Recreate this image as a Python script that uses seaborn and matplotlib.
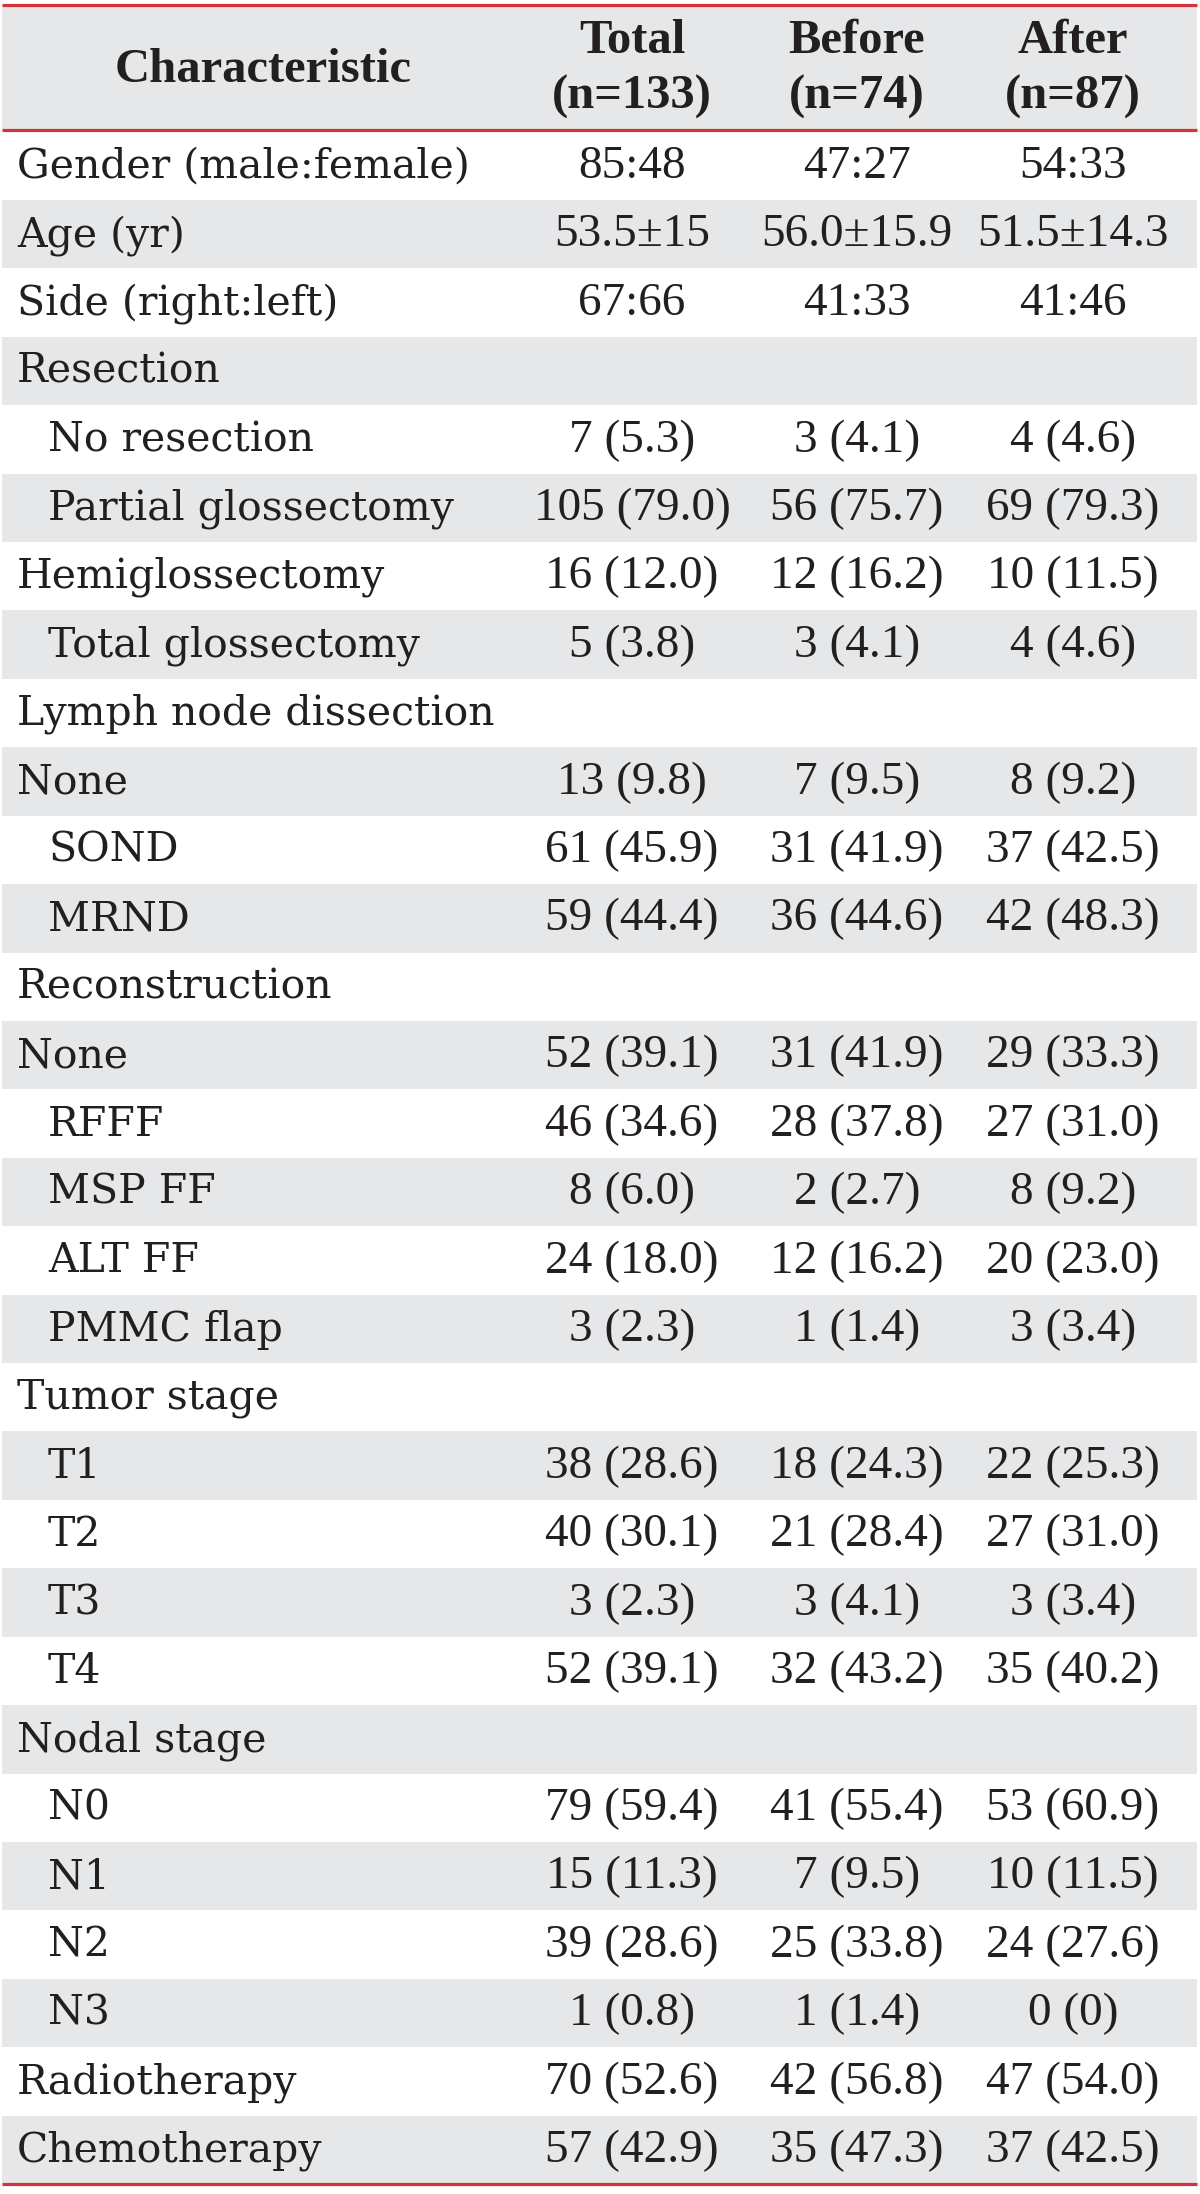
import numpy as np
import pandas as pd
import matplotlib
matplotlib.use("Agg")
import matplotlib.pyplot as plt
import seaborn as sns
from matplotlib.colors import ListedColormap

# table content
columns = ["Total", "Before", "After"]
column_n = ["(n=133)", "(n=74)", "(n=87)"]

labels = [
    "Gender (male:female)", "Age (yr)", "Side (right:left)",
    "Resection", "No resection", "Partial glossectomy", "Hemiglossectomy", "Total glossectomy",
    "Lymph node dissection", "None", "SOND", "MRND",
    "Reconstruction", "None", "RFFF", "MSP FF", "ALT FF", "PMMC flap",
    "Tumor stage", "T1", "T2", "T3", "T4",
    "Nodal stage", "N0", "N1", "N2", "N3",
    "Radiotherapy", "Chemotherapy",
]
indent = [0, 0, 0,
          0, 1, 1, 0, 1,
          0, 0, 1, 1,
          0, 0, 1, 1, 1, 1,
          0, 1, 1, 1, 1,
          0, 1, 1, 1, 1,
          0, 0]

total = ["85:48", "53.5±15", "67:66",
         "", "7 (5.3)", "105 (79.0)", "16 (12.0)", "5 (3.8)",
         "", "13 (9.8)", "61 (45.9)", "59 (44.4)",
         "", "52 (39.1)", "46 (34.6)", "8 (6.0)", "24 (18.0)", "3 (2.3)",
         "", "38 (28.6)", "40 (30.1)", "3 (2.3)", "52 (39.1)",
         "", "79 (59.4)", "15 (11.3)", "39 (28.6)", "1 (0.8)",
         "70 (52.6)", "57 (42.9)"]
before = ["47:27", "56.0±15.9", "41:33",
          "", "3 (4.1)", "56 (75.7)", "12 (16.2)", "3 (4.1)",
          "", "7 (9.5)", "31 (41.9)", "36 (44.6)",
          "", "31 (41.9)", "28 (37.8)", "2 (2.7)", "12 (16.2)", "1 (1.4)",
          "", "18 (24.3)", "21 (28.4)", "3 (4.1)", "32 (43.2)",
          "", "41 (55.4)", "7 (9.5)", "25 (33.8)", "1 (1.4)",
          "42 (56.8)", "35 (47.3)"]
after = ["54:33", "51.5±14.3", "41:46",
         "", "4 (4.6)", "69 (79.3)", "10 (11.5)", "4 (4.6)",
         "", "8 (9.2)", "37 (42.5)", "42 (48.3)",
         "", "29 (33.3)", "27 (31.0)", "8 (9.2)", "20 (23.0)", "3 (3.4)",
         "", "22 (25.3)", "27 (31.0)", "3 (3.4)", "35 (40.2)",
         "", "53 (60.9)", "10 (11.5)", "24 (27.6)", "0 (0)",
         "47 (54.0)", "37 (42.5)"]

df = pd.DataFrame({"label": labels, "indent": indent,
                   "Total": total, "Before": before, "After": after})

# styling
GRAY = "#E6E7E9"
RED = "#D2343B"
INK = "#231F20"
W, H = 1200, 2194
X0, X1 = 2, 1197
HEAD_TOP, HEAD_BOT = 5, 130
BODY_TOP, BODY_BOT = 131.5, 2184
col_x = [632, 857, 1073]

sns.set_theme(style="white")
plt.rcParams["font.family"] = ["DejaVu Serif"]

fig = plt.figure(figsize=(W / 100, H / 100), dpi=100)

# striped row bands via a one-column heatmap
n = len(df)
stripes = np.array([[i % 2] for i in range(n)])
band_ax = fig.add_axes([X0 / W, 1 - BODY_BOT / H, (X1 - X0) / W, (BODY_BOT - BODY_TOP) / H])
sns.heatmap(stripes, ax=band_ax, cmap=ListedColormap(["white", GRAY]),
            cbar=False, xticklabels=False, yticklabels=False, vmin=0, vmax=1)
band_ax.set_axis_off()

# overlay axes in pixel coords for text and rules
ax = fig.add_axes([0, 0, 1, 1], facecolor="none")
ax.set_xlim(0, W)
ax.set_ylim(H, 0)
ax.set_axis_off()

ax.axhspan(HEAD_TOP, HEAD_BOT, xmin=X0 / W, xmax=X1 / W, color=GRAY, lw=0)
for y in (HEAD_TOP, HEAD_BOT, BODY_BOT):
    ax.plot([X0, X1], [y, y], color=RED, lw=2.3, solid_capstyle="butt")

head_font = dict(family="Liberation Serif", weight="bold", size=35, color=INK)
ax.text(263, 70, "Characteristic", ha="center", va="center", **head_font)
for x, name, nn in zip(col_x, columns, column_n):
    ax.text(x, 41, name, ha="center", va="center", **head_font)
    ax.text(x, 97, nn, ha="center", va="center", **head_font)

row_h = (BODY_BOT - BODY_TOP) / n
for i, row in df.iterrows():
    yc = BODY_TOP + (i + 0.5) * row_h + 1
    ax.text(17 + 31 * row["indent"], yc, row["label"], ha="left", va="center",
            family="DejaVu Serif", size=29.5, color=INK)
    for x, c in zip(col_x, columns):
        if row[c]:
            ax.text(x, yc, row[c], ha="center", va="center",
                    family="Liberation Serif", size=34, color=INK)

fig.savefig("out.png", dpi=100)
